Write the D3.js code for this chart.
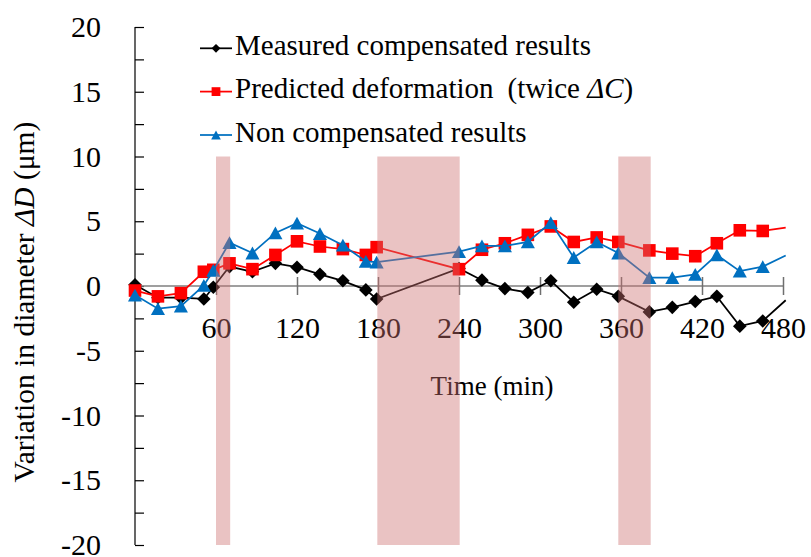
<!DOCTYPE html>
<html>
<head>
<meta charset="utf-8">
<script src="https://cdn.jsdelivr.net/npm/d3@7"></script>
<style>
  html, body { margin: 0; padding: 0; background: #fff; }
  svg { display: block; font-family: "Liberation Serif", "Times New Roman", serif; }
  svg text { font-family: "Liberation Serif", "Times New Roman", serif; }
</style>
</head>
<body>
<svg id="chart" width="811" height="557"></svg>
<script>
// ---------------- data ----------------
const times = [0, 17, 34, 51, 58, 70, 87, 104, 120, 137, 154, 171, 179, 240, 257, 274, 291, 308, 325, 342, 358, 381, 398, 415, 431, 448, 465, 482];
const measured = [0.1, -0.9, -0.9, -1.0, -0.1, 1.5, 1.1, 1.75, 1.45, 0.9, 0.4, -0.3, -1.0, 1.35, 0.45, -0.2, -0.5, 0.4, -1.25, -0.25, -0.8, -2.0, -1.65, -1.2, -0.8, -3.1, -2.7, -1.1];
const predicted = [-0.35, -0.8, -0.55, 1.1, 1.25, 1.75, 1.3, 2.4, 3.45, 3.05, 2.85, 2.4, 3.0, 1.3, 2.8, 3.3, 3.95, 4.6, 3.4, 3.75, 3.4, 2.75, 2.5, 2.3, 3.3, 4.3, 4.25, 4.5];
const nonCompensated = [-0.7, -1.75, -1.55, 0.05, 1.2, 3.35, 2.55, 4.1, 4.85, 4.05, 3.15, 1.9, 1.85, 2.65, 3.1, 3.1, 3.4, 4.9, 2.2, 3.4, 2.55, 0.65, 0.65, 0.9, 2.4, 1.15, 1.5, 2.35];
const seriesNames = ["Measured compensated results", "Predicted deformation", "Non compensated results"];
const bandStarts = [60, 179.5, 358];
const bandEnds = [70.5, 240.5, 382];
const bandTop = 10, bandBottom = -20;
const xTicks = [60, 120, 180, 240, 300, 360, 420, 480];
const yLabelTicks = [-20, -15, -10, -5, 0, 5, 10, 15, 20];
const yMinorTicks = [-20, -17.5, -15, -12.5, -10, -7.5, -5, -2.5, 0, 2.5, 5, 7.5, 10, 12.5, 15, 17.5, 20];

// ---------------- layout ----------------
const svg = d3.select("#chart");
const x = d3.scaleLinear().domain([0, 480]).range([135, 783]);
const y = d3.scaleLinear().domain([-20, 20]).range([545, 27]);
const fmt = d => String(d);

const series = [
  { name: seriesNames[0], values: measured, color: "#000000", shape: "diamond" },
  { name: seriesNames[1], values: predicted, color: "#FF0000", shape: "square" },
  { name: seriesNames[2], values: nonCompensated, color: "#0070C0", shape: "triangle" }
];

function shapePath(shape, s) {
  if (shape === "diamond") return `M0,${-s}L${s},0L0,${s}L${-s},0Z`;
  if (shape === "square") return `M${-s},${-s}H${s}V${s}H${-s}Z`;
  return `M0,${-s}L${s * 1.1},${s}L${-s * 1.1},${s}Z`;
}
const markerSize = { diamond: 6.8, square: 6.3, triangle: 6.4 };

// y axis (ticks inside, on the right)
const yAxis = svg.append("g").attr("transform", `translate(${x(0)},0)`)
  .call(d3.axisRight(y).tickValues(yMinorTicks).tickSize(9).tickFormat(""));
yAxis.select(".domain").attr("stroke", "#000").attr("stroke-width", 1.2).attr("d", `M0,${y(20)}V${y(-20)}`);
yAxis.selectAll(".tick line").attr("stroke", "#000").attr("stroke-width", 1.2);

const yLabels = svg.append("g").attr("transform", `translate(${x(0)},0)`)
  .call(d3.axisLeft(y).tickValues(yLabelTicks).tickSize(0).tickPadding(34).tickFormat(fmt));
yLabels.attr("font-family", null);
yLabels.select(".domain").remove();
yLabels.selectAll("text").attr("font-size", 30).attr("fill", "#000");

// x axis along zero line
const xAxis = svg.append("g").attr("transform", `translate(0,${y(0)})`)
  .call(d3.axisBottom(x).tickValues(xTicks).tickSize(9).tickPadding(22).tickFormat(fmt));
xAxis.attr("font-family", null);
xAxis.select(".domain").attr("stroke", "#7f7f7f").attr("stroke-width", 1.5).attr("d", `M${x(0)},0H${x(480)}`);
xAxis.selectAll(".tick line").attr("stroke", "#6f6f6f").attr("stroke-width", 1.5).attr("y1", -9).attr("y2", 9);
xAxis.selectAll("text").attr("font-size", 30).attr("fill", "#000");

// axis titles
svg.append("text")
  .attr("x", 492).attr("y", 395)
  .attr("text-anchor", "middle").attr("font-size", 27).attr("fill", "#000")
  .text("Time (min)");

const yt = svg.append("text")
  .attr("transform", "translate(34,302) rotate(-90)")
  .attr("text-anchor", "middle").attr("font-size", 29.5).attr("fill", "#000");
yt.append("tspan").text("Variation in diameter ");
yt.append("tspan").attr("font-style", "italic").text("ΔD");
yt.append("tspan").text(" (μm)");

// series
const line = d3.line().x(d => x(d[0])).y(d => y(d[1]));
series.forEach(s => {
  const pts = times.map((t, i) => [t, s.values[i]]);
  const g = svg.append("g");
  g.append("path").attr("d", line(pts)).attr("fill", "none")
    .attr("stroke", s.color).attr("stroke-width", 1.75);
  g.selectAll("path.m").data(pts.filter(p => p[0] <= 480)).join("path")
    .attr("class", "m")
    .attr("transform", d => `translate(${x(d[0])},${y(d[1])})`)
    .attr("d", shapePath(s.shape, markerSize[s.shape]))
    .attr("fill", s.color);
});

// legend
const legendRows = [55, 98.3, 141.7];
series.forEach((s, i) => {
  const g = svg.append("g").attr("transform", `translate(0,${legendRows[i]})`);
  g.append("line").attr("x1", 200).attr("x2", 232).attr("y1", -6.7).attr("y2", -6.7)
    .attr("stroke", s.color).attr("stroke-width", 1.75);
  g.append("path").attr("transform", `translate(216,-6.7)`)
    .attr("d", shapePath(s.shape, 4.4)).attr("fill", s.color);
  const t = g.append("text").attr("x", 235).attr("y", 0).attr("font-size", 29).attr("fill", "#000");
  t.append("tspan").text(s.name);
  if (i === 1) {
    t.append("tspan").attr("dx", 14).text("(twice ");
    t.append("tspan").attr("font-style", "italic").text("ΔC");
    t.append("tspan").text(")");
  }
});

// shaded bands (drawn on top, translucent)
svg.append("g").selectAll("rect").data(bandStarts.map((b, i) => [b, bandEnds[i]])).join("rect")
  .attr("x", d => x(d[0])).attr("width", d => x(d[1]) - x(d[0]))
  .attr("y", y(bandTop)).attr("height", y(bandBottom) - y(bandTop))
  .attr("fill", "rgb(205,112,112)").attr("fill-opacity", 0.42);
</script>
</body>
</html>
